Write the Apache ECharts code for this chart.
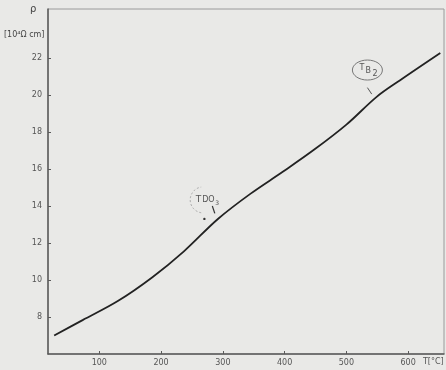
<!DOCTYPE html>
<html><head><meta charset="utf-8">
<script src="https://cdn.jsdelivr.net/npm/echarts@6/dist/echarts.min.js"></script>
<style>html,body{margin:0;padding:0;background:#e9e9e7;}#c{width:446px;height:370px;}</style>
</head><body><div id="c"></div>
<script>
const temperature = [27, 73, 130, 186, 237, 292, 345, 397, 448, 500, 549, 587, 652];
const resistivity = [7.0, 7.83, 8.86, 10.15, 11.55, 13.3, 14.67, 15.85, 17.05, 18.4, 19.9, 20.8, 22.27];
const xTicks = [100, 200, 300, 400, 500, 600];
const yTicks = [8, 10, 12, 14, 16, 18, 20, 22];
const yName = 'ρ';
const yUnit = '[10⁴Ω cm]';
const xName = 'T[°C]';

const chart = echarts.init(document.getElementById('c'), null, {renderer: 'canvas'});
const axisColor = '#5a5a5a';
const labelStyle = {color: '#555', fontSize: 8, fontFamily: 'DejaVu Sans'};
chart.setOption({
  backgroundColor: '#e9e9e7',
  animation: false,
  grid: {left: 48, top: 9, right: 2, bottom: 16, show: true, borderColor: '#9a9a9a', borderWidth: 1, backgroundColor: 'transparent'},
  xAxis: {
    type: 'value', min: 17, max: 658,
    axisLine: {show: true, lineStyle: {color: axisColor, width: 1.5}},
    splitLine: {show: false},
    axisTick: {show: true, inside: true, length: 3, customValues: xTicks, lineStyle: {color: axisColor}},
    axisLabel: {customValues: xTicks, margin: 5, ...labelStyle}
  },
  yAxis: {
    type: 'value', min: 6, max: 24.65,
    axisLine: {show: true, lineStyle: {color: axisColor, width: 1.5}},
    splitLine: {show: false},
    axisTick: {show: true, inside: true, length: 3, customValues: yTicks, lineStyle: {color: axisColor}},
    axisLabel: {customValues: yTicks, margin: 6, ...labelStyle}
  },
  series: [{
    type: 'line', data: temperature.map((t, i) => [t, resistivity[i]]),
    smooth: 0.35, showSymbol: false,
    lineStyle: {color: '#222', width: 1.8}
  }]
});

const p = (x, y) => chart.convertToPixel({gridIndex: 0}, [x, y]);
const d1 = p(265, 14.33);
const d2 = p(534, 21.35);
const dot = p(275, 13.25);
const arr1a = p(283, 14.0), arr1b = p(287, 13.6);
const stemA = p(534, 20.4), stemB = p(541, 20.05);
const xl = p(640, 6);
chart.setOption({
  graphic: [
    {type: 'text', left: 30, top: 4, style: {text: yName, fontSize: 10, fill: '#444', fontFamily: 'DejaVu Sans'}},
    {type: 'text', left: 4, top: 31, style: {text: yUnit, fontSize: 8, fill: '#444', fontFamily: 'DejaVu Sans'}},
    {type: 'text', x: xl[0] - 10, y: 358, style: {text: xName, fontSize: 8, fill: '#555', fontFamily: 'DejaVu Sans'}},
    {type: 'text', x: d1[0], y: d1[1], style: {text: 'T', fontSize: 9, fill: '#555', align: 'right', verticalAlign: 'middle', fontFamily: 'DejaVu Sans'}},
    {type: 'text', x: d1[0] + 1, y: d1[1], style: {text: 'DO', fontSize: 8, fill: '#555', verticalAlign: 'middle', fontFamily: 'DejaVu Sans'}},
    {type: 'text', x: d1[0] + 14, y: d1[1] + 4, style: {text: '3', fontSize: 6, fill: '#555', verticalAlign: 'middle', fontFamily: 'DejaVu Sans'}},
    {type: 'arc', shape: {cx: d1[0] + 2, cy: d1[1], r: 13, startAngle: Math.PI * 0.55, endAngle: Math.PI * 1.45}, style: {stroke: '#aaa', lineWidth: 1, fill: null, lineDash: [2, 2]}},
    {type: 'line', shape: {x1: arr1a[0], y1: arr1a[1], x2: arr1b[0], y2: arr1b[1]}, style: {stroke: '#333', lineWidth: 1.2}},
    {type: 'circle', shape: {cx: dot[0] - 3, cy: dot[1] - 1, r: 1.2}, style: {fill: '#333'}},
    {type: 'ellipse', shape: {cx: d2[0], cy: d2[1], rx: 15, ry: 10}, style: {stroke: '#777', lineWidth: 1, fill: null}},
    {type: 'text', x: d2[0] - 3, y: d2[1] - 2, style: {text: 'T', fontSize: 8, fill: '#555', align: 'right', verticalAlign: 'middle', fontFamily: 'DejaVu Sans'}},
    {type: 'text', x: d2[0] - 2, y: d2[1] + 1, style: {text: 'B', fontSize: 8, fill: '#555', verticalAlign: 'middle', fontFamily: 'DejaVu Sans'}},
    {type: 'text', x: d2[0] + 5, y: d2[1] + 4, style: {text: '2', fontSize: 8, fill: '#555', verticalAlign: 'middle', fontFamily: 'DejaVu Sans'}},
    {type: 'line', shape: {x1: stemA[0], y1: stemA[1], x2: stemB[0], y2: stemB[1]}, style: {stroke: '#555', lineWidth: 1}}
  ]
});
</script></body></html>
